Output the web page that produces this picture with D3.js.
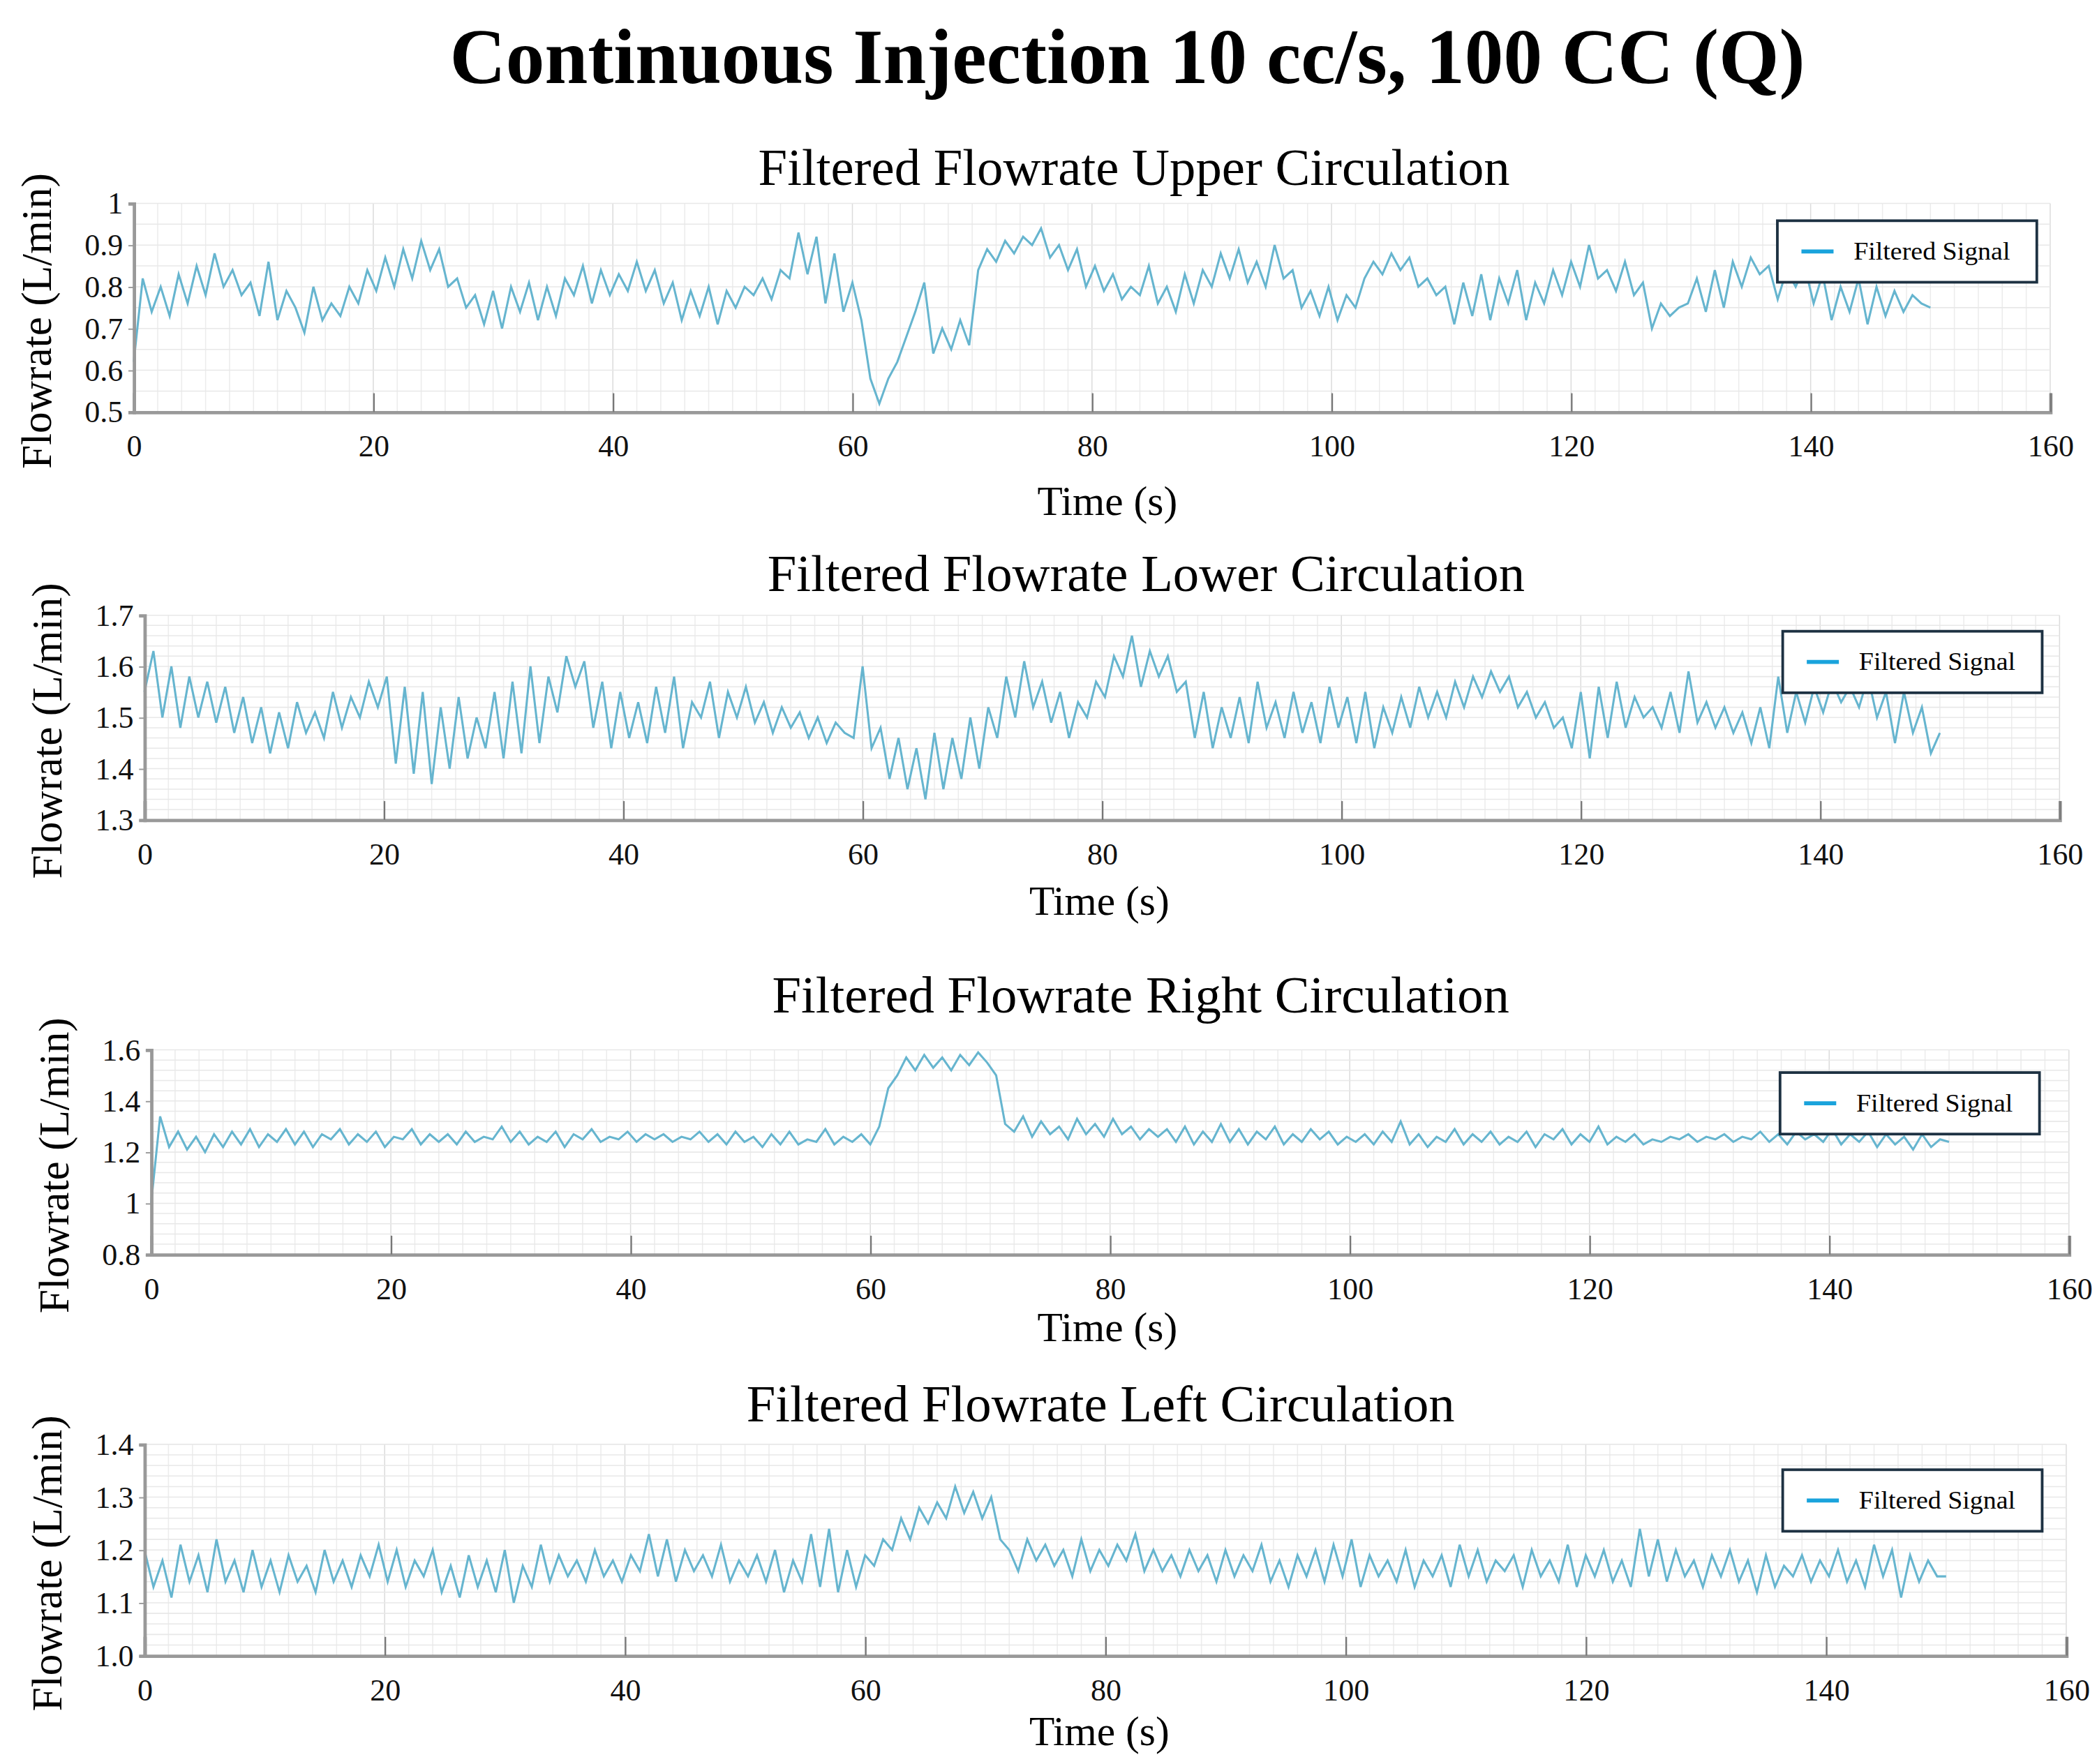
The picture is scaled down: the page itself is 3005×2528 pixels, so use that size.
<!DOCTYPE html>
<html><head><meta charset="utf-8">
<script src="https://cdn.jsdelivr.net/npm/d3@7"></script>
<style>html,body{margin:0;background:#fff}</style>
</head><body>
<script>
const mainTitle = "Continuous Injection 10 cc/s, 100 CC (Q)";
const panelTitles = ["Filtered Flowrate Upper Circulation","Filtered Flowrate Lower Circulation","Filtered Flowrate Right Circulation","Filtered Flowrate Left Circulation"];
const xTicks = [0,20,40,60,80,100,120,140,160];
const yTicksUpper = [0.5,0.6,0.7,0.8,0.9,1];
const yTicksLower = [1.3,1.4,1.5,1.6,1.7];
const yTicksRight = [0.8,1,1.2,1.4,1.6];
const yTicksLeft = [1.0,1.1,1.2,1.3,1.4];
const timeStep = 0.75;
const upper = [0.62,0.82,0.74,0.80,0.73,0.83,0.76,0.85,0.78,0.88,0.80,0.84,0.78,0.81,0.73,0.86,0.72,0.79,0.75,0.69,0.80,0.72,0.76,0.73,0.80,0.76,0.84,0.79,0.87,0.80,0.89,0.82,0.91,0.84,0.89,0.80,0.82,0.75,0.78,0.71,0.79,0.70,0.80,0.74,0.81,0.72,0.80,0.73,0.82,0.78,0.85,0.76,0.84,0.78,0.83,0.79,0.86,0.79,0.84,0.76,0.81,0.72,0.79,0.73,0.80,0.71,0.79,0.75,0.80,0.78,0.82,0.77,0.84,0.82,0.93,0.83,0.92,0.76,0.88,0.74,0.81,0.72,0.58,0.52,0.58,0.62,0.68,0.74,0.81,0.64,0.70,0.65,0.72,0.66,0.84,0.89,0.86,0.91,0.88,0.92,0.90,0.94,0.87,0.90,0.84,0.89,0.80,0.85,0.79,0.83,0.77,0.80,0.78,0.85,0.76,0.80,0.74,0.83,0.76,0.84,0.80,0.88,0.82,0.89,0.81,0.86,0.80,0.90,0.82,0.84,0.75,0.79,0.73,0.80,0.72,0.78,0.75,0.82,0.86,0.83,0.88,0.84,0.87,0.80,0.82,0.78,0.80,0.71,0.81,0.73,0.83,0.72,0.82,0.76,0.84,0.72,0.81,0.76,0.84,0.78,0.86,0.80,0.90,0.82,0.84,0.79,0.86,0.78,0.81,0.70,0.76,0.73,0.75,0.76,0.82,0.74,0.84,0.75,0.86,0.80,0.87,0.83,0.85,0.77,0.84,0.80,0.85,0.76,0.83,0.72,0.80,0.74,0.82,0.71,0.80,0.73,0.79,0.74,0.78,0.76,0.75];
const lower = [1.55,1.63,1.50,1.60,1.48,1.58,1.50,1.57,1.49,1.56,1.47,1.54,1.45,1.52,1.43,1.51,1.44,1.53,1.47,1.51,1.46,1.55,1.48,1.54,1.50,1.57,1.52,1.58,1.41,1.56,1.39,1.55,1.37,1.52,1.40,1.54,1.42,1.50,1.44,1.55,1.42,1.57,1.43,1.60,1.45,1.58,1.51,1.62,1.56,1.61,1.48,1.57,1.44,1.55,1.46,1.53,1.45,1.56,1.47,1.58,1.44,1.53,1.50,1.57,1.46,1.55,1.50,1.56,1.49,1.53,1.47,1.52,1.48,1.51,1.46,1.50,1.45,1.49,1.47,1.46,1.60,1.44,1.48,1.38,1.46,1.36,1.44,1.34,1.47,1.36,1.46,1.38,1.50,1.40,1.52,1.46,1.58,1.50,1.61,1.52,1.57,1.49,1.55,1.46,1.53,1.50,1.57,1.54,1.62,1.58,1.66,1.56,1.63,1.58,1.62,1.55,1.57,1.46,1.55,1.44,1.52,1.46,1.54,1.45,1.57,1.48,1.53,1.46,1.55,1.47,1.53,1.45,1.56,1.48,1.54,1.45,1.55,1.44,1.52,1.47,1.54,1.48,1.56,1.50,1.55,1.50,1.57,1.52,1.58,1.54,1.59,1.55,1.58,1.52,1.55,1.50,1.53,1.48,1.50,1.44,1.55,1.42,1.56,1.46,1.57,1.48,1.54,1.50,1.52,1.48,1.55,1.47,1.59,1.49,1.53,1.48,1.52,1.47,1.51,1.45,1.52,1.44,1.58,1.47,1.55,1.49,1.56,1.51,1.57,1.53,1.56,1.52,1.58,1.50,1.55,1.45,1.55,1.47,1.52,1.43,1.47];
const right = [1.00,1.34,1.22,1.28,1.21,1.26,1.20,1.27,1.22,1.28,1.23,1.29,1.22,1.27,1.24,1.29,1.23,1.28,1.22,1.27,1.25,1.29,1.23,1.27,1.24,1.28,1.22,1.26,1.25,1.29,1.23,1.27,1.24,1.27,1.23,1.28,1.24,1.26,1.25,1.30,1.24,1.28,1.23,1.26,1.24,1.28,1.22,1.27,1.25,1.29,1.24,1.26,1.25,1.28,1.24,1.27,1.25,1.27,1.24,1.26,1.25,1.28,1.24,1.27,1.23,1.28,1.24,1.26,1.22,1.27,1.23,1.28,1.23,1.25,1.24,1.29,1.23,1.26,1.24,1.27,1.23,1.30,1.45,1.50,1.57,1.52,1.58,1.53,1.57,1.52,1.58,1.54,1.59,1.55,1.50,1.31,1.28,1.34,1.26,1.32,1.27,1.30,1.25,1.33,1.27,1.31,1.26,1.33,1.27,1.30,1.25,1.29,1.26,1.29,1.24,1.30,1.23,1.28,1.24,1.31,1.24,1.29,1.23,1.28,1.25,1.30,1.23,1.27,1.24,1.29,1.25,1.28,1.23,1.26,1.24,1.27,1.23,1.28,1.24,1.32,1.23,1.27,1.22,1.26,1.24,1.29,1.23,1.27,1.24,1.28,1.23,1.26,1.24,1.28,1.22,1.27,1.25,1.29,1.23,1.27,1.24,1.30,1.23,1.26,1.24,1.27,1.23,1.25,1.24,1.26,1.25,1.27,1.24,1.26,1.25,1.27,1.24,1.26,1.25,1.28,1.24,1.27,1.23,1.28,1.25,1.27,1.24,1.29,1.23,1.27,1.24,1.28,1.22,1.27,1.23,1.26,1.21,1.27,1.22,1.25,1.24];
const left = [1.20,1.13,1.18,1.11,1.21,1.14,1.19,1.12,1.22,1.14,1.18,1.12,1.20,1.13,1.18,1.12,1.19,1.14,1.17,1.12,1.20,1.14,1.18,1.13,1.19,1.15,1.21,1.14,1.20,1.13,1.18,1.15,1.20,1.12,1.17,1.11,1.19,1.13,1.18,1.12,1.20,1.10,1.17,1.13,1.21,1.14,1.19,1.15,1.18,1.14,1.20,1.15,1.18,1.14,1.19,1.16,1.23,1.15,1.22,1.14,1.20,1.16,1.19,1.15,1.21,1.14,1.18,1.15,1.19,1.14,1.20,1.12,1.18,1.14,1.23,1.13,1.24,1.12,1.20,1.13,1.19,1.17,1.22,1.20,1.26,1.22,1.28,1.25,1.29,1.26,1.32,1.27,1.31,1.26,1.30,1.22,1.20,1.16,1.22,1.18,1.21,1.17,1.20,1.15,1.22,1.16,1.20,1.17,1.21,1.18,1.23,1.16,1.20,1.16,1.19,1.15,1.20,1.16,1.19,1.14,1.20,1.15,1.19,1.16,1.21,1.14,1.18,1.13,1.19,1.15,1.20,1.14,1.21,1.15,1.22,1.13,1.19,1.15,1.18,1.14,1.20,1.13,1.18,1.15,1.19,1.13,1.21,1.15,1.20,1.14,1.18,1.16,1.19,1.13,1.20,1.15,1.18,1.14,1.21,1.13,1.19,1.15,1.20,1.14,1.18,1.13,1.24,1.15,1.22,1.14,1.20,1.15,1.18,1.13,1.19,1.15,1.20,1.14,1.18,1.12,1.19,1.13,1.17,1.15,1.19,1.14,1.18,1.15,1.20,1.14,1.18,1.13,1.21,1.15,1.20,1.11,1.19,1.14,1.18,1.15,1.15];
const series = [upper, lower, right, left];
const yDomains = [[0.5,1],[1.3,1.7],[0.8,1.6],[1.0,1.4]];
const yTickSets = [yTicksUpper, yTicksLower, yTicksRight, yTicksLeft];
const yMinorSteps = [0.05, 0.02, 0.04, 0.02];
const legendLabel = "Filtered Signal";

const layout = [
  {l:100,r:1533,t:152,b:308,title:[848,138],xl:[828,385],leg:[1329,165]},
  {l:108,r:1540,t:460,b:613,title:[857,442],xl:[822,684],leg:[1333,472]},
  {l:113,r:1547,t:785,b:938,title:[853,757],xl:[828,1003],leg:[1331,802]},
  {l:108,r:1545,t:1080,b:1238,title:[823,1063],xl:[822,1305],leg:[1333,1099]}
];
const font = "'Liberation Serif','Times New Roman',serif";
const svg = d3.select("body").append("svg")
  .attr("width",3005).attr("height",2528).attr("viewBox","0 0 1568 1319");
svg.append("rect").attr("width",1568).attr("height",1319).attr("fill","#fff");
svg.append("text").attr("x",843).attr("y",62).attr("text-anchor","middle")
  .attr("font-family",font).attr("font-weight","bold").attr("font-size",58).text(mainTitle);

series.forEach((vals,k)=>{
  const L = layout[k];
  const x = d3.scaleLinear().domain([0,160]).range([L.l,L.r]);
  const y = d3.scaleLinear().domain(yDomains[k]).range([L.b,L.t]);
  const g = svg.append("g");
  g.append("g").selectAll("line").data(d3.range(0,160.001,2)).join("line")
    .attr("x1",d=>x(d)).attr("x2",d=>x(d)).attr("y1",L.t).attr("y2",L.b)
    .attr("stroke",d=>d%20===0?"#dcdcdc":"#ececec").attr("stroke-width",0.8);
  const [y0,y1] = yDomains[k];
  const nMinor = Math.round((y1-y0)/yMinorSteps[k]);
  g.append("g").selectAll("line").data(d3.range(nMinor+1).map(i=>y0+i*yMinorSteps[k])).join("line")
    .attr("x1",L.l).attr("x2",L.r).attr("y1",d=>y(d)).attr("y2",d=>y(d))
    .attr("stroke","#e8e8e8").attr("stroke-width",0.8);
  const line = d3.line().x((d,i)=>x(i*timeStep)).y(d=>y(d));
  g.append("path").datum(vals).attr("d",line).attr("fill","none")
    .attr("stroke","#66b5cf").attr("stroke-width",1.6);
  const xa = d3.axisBottom(x).tickValues(xTicks).tickSize(-14).tickPadding(17).tickFormat(d3.format("d"));
  const ga = g.append("g").attr("transform",`translate(0,${L.b})`).call(xa);
  ga.select(".domain").attr("stroke","#999").attr("stroke-width",2.5);
  ga.selectAll(".tick line").attr("stroke","#777").attr("stroke-width",1.2);
  ga.selectAll("text").attr("font-family",font).attr("font-size",23).attr("fill","#111");
  const ya = d3.axisLeft(y).tickValues(yTickSets[k]).tickSize(4).tickPadding(4)
    .tickFormat(k===3? d3.format(".1f") : d=>String(+d.toFixed(2)));
  const gy = g.append("g").attr("transform",`translate(${L.l},0)`).call(ya);
  gy.select(".domain").attr("stroke","#999").attr("stroke-width",2.5);
  gy.selectAll(".tick line").attr("stroke","#999");
  gy.selectAll("text").attr("font-family",font).attr("font-size",23).attr("fill","#111");
  g.append("text").attr("x",L.title[0]).attr("y",L.title[1]).attr("text-anchor","middle")
    .attr("font-family",font).attr("font-size",39).text(panelTitles[k]);
  g.append("text").attr("x",L.xl[0]).attr("y",L.xl[1]).attr("text-anchor","middle")
    .attr("font-family",font).attr("font-size",31).text("Time (s)");
  g.append("text").attr("transform",`translate(${L.l-62},${(L.t+L.b)/2+10}) rotate(-90)`)
    .attr("text-anchor","middle").attr("font-family",font).attr("font-size",32).text("Flowrate (L/min)");
  const lg = g.append("g").attr("transform",`translate(${L.leg[0]},${L.leg[1]})`);
  lg.append("rect").attr("width",194).attr("height",46).attr("fill","#fff")
    .attr("stroke","#1d3142").attr("stroke-width",2);
  lg.append("line").attr("x1",18).attr("x2",42).attr("y1",23).attr("y2",23)
    .attr("stroke","#1aa3dc").attr("stroke-width",3);
  lg.append("text").attr("x",57).attr("y",29).attr("font-family",font).attr("font-size",19)
    .attr("textLength",117).attr("lengthAdjust","spacingAndGlyphs").text(legendLabel);
});
</script>
</body></html>
